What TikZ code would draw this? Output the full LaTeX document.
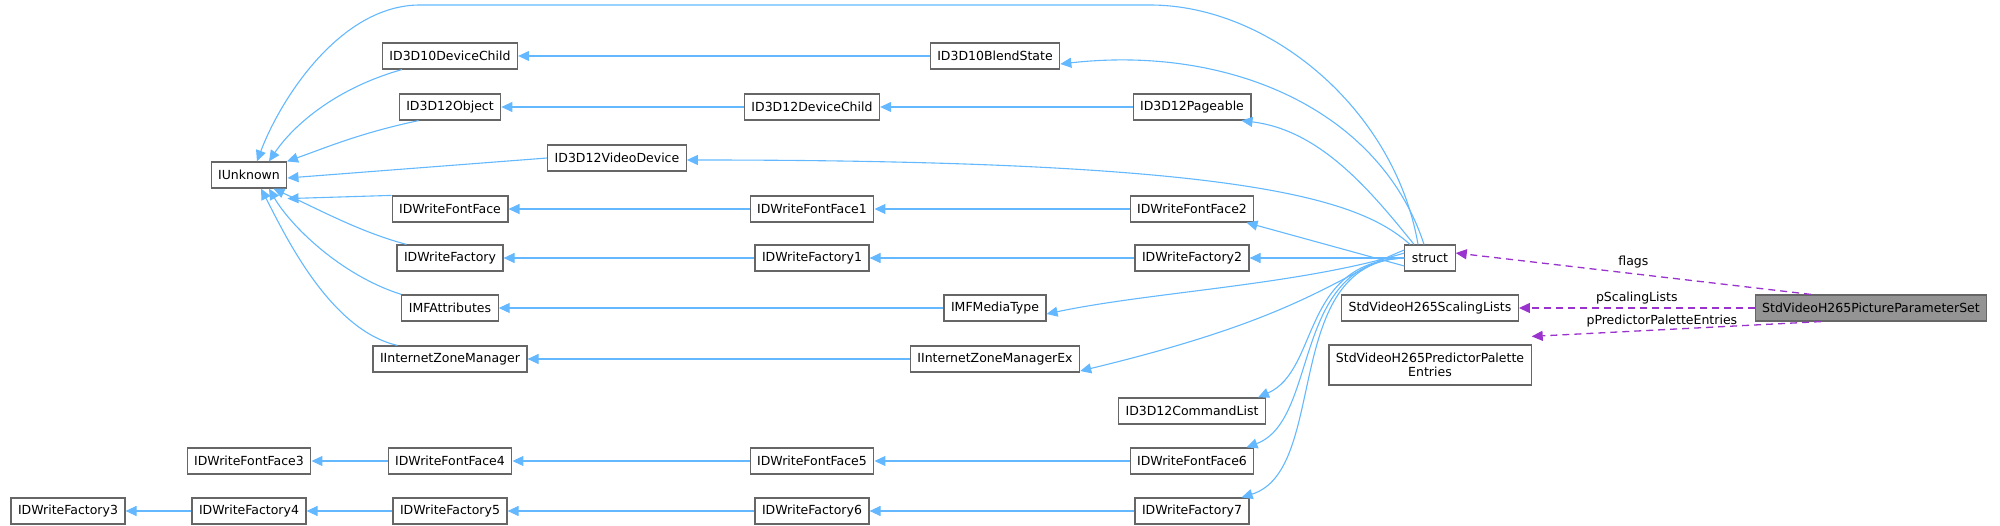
\documentclass[tikz,border=0pt]{standalone}
\usepackage{fontspec}
\setmainfont{DejaVu Sans}
\usetikzlibrary{arrows.meta}
\definecolor{edge}{HTML}{63B8FF}
\definecolor{mem}{HTML}{9A32CD}
\definecolor{bd}{HTML}{666666}
\begin{document}
\begin{tikzpicture}[x=1pt,y=-1pt,
  box/.style={draw=bd,line width=1.2pt,fill=white,minimum height=26pt,inner xsep=7pt,inner ysep=2pt,font=\fontsize{12.5}{14}\selectfont,align=center},
  inh/.style={draw=edge,line width=1.1pt,-{Triangle[length=11pt,width=10pt]}},
  use/.style={draw=mem,line width=1.3pt,dash pattern=on 7pt off 5pt,-{Triangle[length=11pt,width=10pt]}},
  lab/.style={font=\fontsize{12.5}{14}\selectfont}]
\useasboundingbox (0,0) rectangle (2000,526);
% nodes
\node[box] (iu) at (249,175) {IUnknown};
\node[box] (dc10) at (450,56) {ID3D10DeviceChild};
\node[box] (obj) at (450,107) {ID3D12Object};
\node[box] (vd) at (617,158) {ID3D12VideoDevice};
\node[box] (ff) at (450,209) {IDWriteFontFace};
\node[box] (fa) at (450,258) {IDWriteFactory};
\node[box] (mfa) at (450,308) {IMFAttributes};
\node[box] (izm) at (450,359) {IInternetZoneManager};
\node[box] (ff3) at (249,461) {IDWriteFontFace3};
\node[box] (ff4) at (450,461) {IDWriteFontFace4};
\node[box] (fa3) at (68,511) {IDWriteFactory3};
\node[box] (fa4) at (249,511) {IDWriteFactory4};
\node[box] (fa5) at (450,511) {IDWriteFactory5};
\node[box] (bs) at (995,56) {ID3D10BlendState};
\node[box] (dc12) at (812,107) {ID3D12DeviceChild};
\node[box] (ff1) at (812,209) {IDWriteFontFace1};
\node[box] (fa1) at (812,258) {IDWriteFactory1};
\node[box] (mt) at (995,308) {IMFMediaType};
\node[box] (izmx) at (995,359) {IInternetZoneManagerEx};
\node[box] (ff5) at (812,461) {IDWriteFontFace5};
\node[box] (fa6) at (812,511) {IDWriteFactory6};
\node[box] (pg) at (1192,107) {ID3D12Pageable};
\node[box] (ff2) at (1192,209) {IDWriteFontFace2};
\node[box] (fa2) at (1192,258) {IDWriteFactory2};
\node[box] (cl) at (1192,411) {ID3D12CommandList};
\node[box] (ff6) at (1192,461) {IDWriteFontFace6};
\node[box] (fa7) at (1192,511) {IDWriteFactory7};
\node[box] (st) at (1430,258) {struct};
\node[box] (sl) at (1430,308) {StdVideoH265ScalingLists};
\node[box,minimum height=40pt,inner ysep=1pt] (pp) at (1430,365) {StdVideoH265PredictorPalette\\Entries};
\node[box,fill=bd!70] (pps) at (1871,308) {StdVideoH265PictureParameterSet};
% horizontal chains
\draw[inh] (bs) -- (dc10);
\draw[inh] (pg) -- (dc12);
\draw[inh] (dc12) -- (obj);
\draw[inh] (ff2) -- (ff1);
\draw[inh] (ff1) -- (ff);
\draw[inh] (fa2) -- (fa1);
\draw[inh] (fa1) -- (fa);
\draw[inh] (mt) -- (mfa);
\draw[inh] (izmx) -- (izm);
\draw[inh] (ff6) -- (ff5);
\draw[inh] (ff5) -- (ff4);
\draw[inh] (ff4) -- (ff3);
\draw[inh] (fa7) -- (fa6);
\draw[inh] (fa6) -- (fa5);
\draw[inh] (fa5) -- (fa4);
\draw[inh] (fa4) -- (fa3);
% to IUnknown
\draw[inh] (dc10.south west) ++(20,0) .. controls (330,90) and (290,130) .. ([xshift=20pt]iu.north);
\draw[inh] (obj.south west) ++(20,0) .. controls (360,133) and (325,148) .. ([xshift=38pt]iu.north);
\draw[inh] (vd.west) -- ([yshift=-3pt]iu.east);
\draw[inh] (ff.north west) -- ([yshift=-10pt]iu.south east);
\draw[inh] (fa.north west) ++(10,0) .. controls (360,232) and (320,210) .. ([xshift=-14pt]iu.south east);
\draw[inh] (mfa.north west) .. controls (340,275) and (290,225) .. ([xshift=20pt]iu.south);
\draw[inh] (izm.north west) ++(25,0) .. controls (330,330) and (285,235) .. ([xshift=12pt]iu.south);
% from struct
\coordinate (stt) at ([xshift=-12pt]st.north);
\draw[inh] (stt) .. controls (1395,110) and (1270,5) .. (1150,5) -- (420,5) .. controls (340,5) and (280,100) .. ([xshift=8pt]iu.north);
\draw[inh] ([xshift=-6pt]st.north) .. controls (1380,110) and (1230,45) .. ([yshift=-8pt]bs.east);
\draw[inh] ([xshift=-16pt]st.north) .. controls (1370,190) and (1320,130) .. ([xshift=-10pt]pg.south east);
\draw[inh] ([xshift=-20pt]st.north) .. controls (1360,200) and (1250,160) .. ([yshift=-2pt]vd.east);
\draw[inh] ([yshift=-8pt]st.west) -- ([xshift=-8pt]ff2.south east);
\draw[inh] (st.west) -- (fa2.east);
\draw[inh] ([yshift=5pt]st.west) .. controls (1300,285) and (1150,292) .. ([yshift=-6pt]mt.east);
\draw[inh] ([yshift=8pt]st.west) .. controls (1330,280) and (1300,318) .. ([yshift=-12pt]izmx.east);
\draw[inh] (st.west) .. controls (1300,262) and (1320,370) .. ([xshift=-8pt]cl.north east);
\draw[inh] (st.west) .. controls (1290,262) and (1320,420) .. ([xshift=-8pt]ff6.north east);
\draw[inh] (st.west) .. controls (1280,262) and (1330,470) .. ([xshift=-8pt]fa7.north east);
% members
\draw[use] ([xshift=-60pt]pps.north) -- node[lab,pos=0.5,above=2pt] {flags} ([yshift=5pt]st.east);
\draw[use] (pps.west) -- node[lab,pos=0.5,above=0pt] {pScalingLists} (sl.east);
\draw[use] ([xshift=-50pt]pps.south) -- node[lab,pos=0.55,above=-1pt] {pPredictorPaletteEntries} ([yshift=8pt]pp.north east);
\end{tikzpicture}
\end{document}
